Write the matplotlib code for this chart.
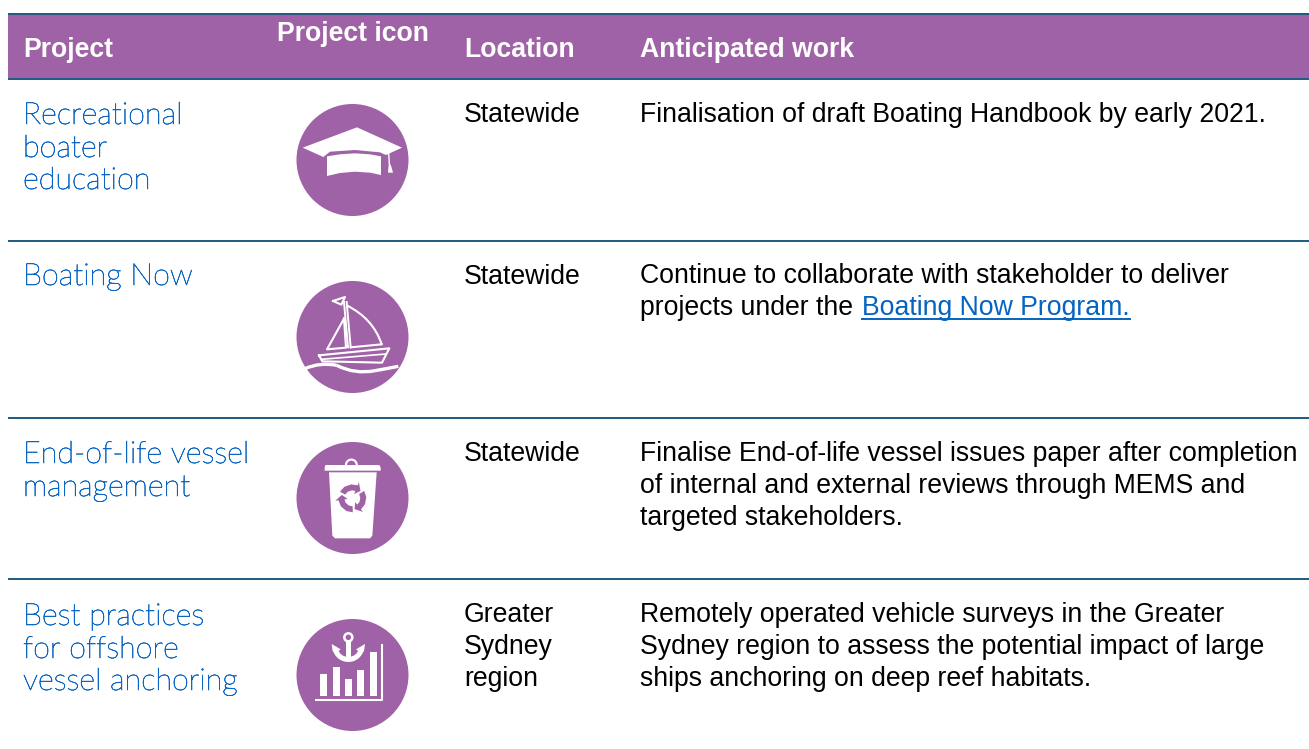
import numpy as np
import matplotlib
matplotlib.use('Agg')
import matplotlib.pyplot as plt
import matplotlib.patheffects as pe
from matplotlib.patches import Circle, Polygon, Rectangle, Wedge, PathPatch
from matplotlib.path import Path

# table content
headers = ['Project', 'Project icon', 'Location', 'Anticipated work']
projects = [['Recreational', 'boater', 'education'],
            ['Boating Now'],
            ['End-of-life vessel', 'management'],
            ['Best practices', 'for offshore', 'vessel anchoring']]
locations = [['Statewide'], ['Statewide'], ['Statewide'], ['Greater', 'Sydney', 'region']]
work = [['Finalisation of draft Boating Handbook by early 2021.'],
        ['Continue to collaborate with stakeholder to deliver', 'projects under the '],
        ['Finalise End-of-life vessel issues paper after completion',
         'of internal and external reviews through MEMS and',
         'targeted stakeholders.'],
        ['Remotely operated vehicle surveys in the Greater',
         'Sydney region to assess the potential impact of large',
         'ships anchoring on deep reef habitats.']]
link_text = 'Boating Now Program.'

PURPLE = '#A062A6'
RULE = '#1F5A82'
BLUE = '#0A66C2'
LINK = '#0563C1'
BODY = 'Liberation Sans'
GOTHIC = 'Lato'
SIZE = 19.2

fig = plt.figure(figsize=(13.09, 7.49), dpi=100)
ax = fig.add_axes([0, 0, 1, 1])
ax.set_xlim(0, 1309)
ax.set_ylim(749, 0)
ax.axis('off')

# header band and rules
ax.add_patch(Rectangle((8, 14), 1301, 65, fc=PURPLE, ec='none'))
for y in [14, 79, 241, 418, 579]:
    ax.plot([8, 1309], [y, y], color=RULE, lw=1.4, solid_capstyle='butt')

# header labels
head_x = [23, 277, 464, 640]
head_y = [57, 41, 57, 57]
for lab, x, y in zip(headers, head_x, head_y):
    ax.text(x, y, lab, color='white', fontsize=SIZE, fontweight='bold', family=BODY, va='baseline')

# rows
name_y = [[124, 157, 189], [285], [463, 496], [625, 658, 690]]
loc_y = [[122], [284], [461], [622, 654, 686]]
work_y = [[122], [283, 315], [461, 493, 525], [622, 654, 686]]
# lato light is too thin at this size, thicken it a little
thicker = [pe.withStroke(linewidth=0.45, foreground=BLUE)]
for i in range(4):
    for lab, y in zip(projects[i], name_y[i]):
        ax.text(23, y, lab, color=BLUE, fontsize=22, fontweight='light', family=GOTHIC, va='baseline',
                path_effects=thicker)
    for lab, y in zip(locations[i], loc_y[i]):
        ax.text(464, y, lab, color='black', fontsize=SIZE, family=BODY, va='baseline')
    for lab, y in zip(work[i], work_y[i]):
        ax.text(640, y, lab, color='black', fontsize=SIZE, family=BODY, va='baseline')

# hyperlink after "projects under the"
fig.canvas.draw()
r = fig.canvas.get_renderer()
prefix = [t for t in ax.texts if t.get_text() == work[1][1]][0]
link_x = ax.transData.inverted().transform(prefix.get_window_extent(r).max)[0] + 2
link = ax.text(link_x, 315, link_text, color=LINK, fontsize=SIZE, family=BODY, va='baseline')
fig.canvas.draw()
bb = link.get_window_extent(r)
ax.plot([link_x, link_x + bb.width], [318.5, 318.5], color=LINK, lw=1.4)


# icons are traced in the coordinates of a 3x crop (ox, oy = crop corner)
def pts(xy, ox, oy):
    xy = np.array(xy, dtype=float)
    return xy / 3 + [ox, oy]


def fill(xy, ox, oy, z=4):
    ax.add_patch(Polygon(pts(xy, ox, oy), closed=True, fc='white', ec='none', zorder=z))


def curve(xy, ox, oy, lw=1.5):
    xy = pts(xy, ox, oy)
    codes = [Path.MOVETO] + [Path.CURVE3] * (len(xy) - 1)
    ax.add_patch(PathPatch(Path(xy, codes), fc='none', ec='white', lw=lw, zorder=4))


def line(xy, ox, oy, lw=1.5):
    xy = pts(xy, ox, oy)
    ax.plot(xy[:, 0], xy[:, 1], color='white', lw=lw, zorder=4, solid_joinstyle='round')


for cy in [160, 337, 498, 675]:
    ax.add_patch(Circle((352.5, cy), 56, fc=PURPLE, ec='none', zorder=3))

# graduation cap
ox, oy = 280, 95
fill([(68, 158), (231, 97), (366, 158), (318, 180), (300, 172), (225, 165), (150, 170), (130, 186)], ox, oy)
fill([(141, 184), (180, 178), (225, 175), (270, 178), (303, 184), (303, 240), (270, 233),
      (225, 230), (180, 234), (141, 243)], ox, oy)
line([(326, 176), (328, 205)], ox, oy, lw=1)
fill([(327, 198), (334, 215), (339, 233), (324, 233)], ox, oy)

# sail boat
ox, oy = 280, 272
line([(159, 87), (195, 75), (184, 98), (159, 87)], ox, oy)
line([(192, 90), (204, 226)], ox, oy, lw=1.4)
line([(200, 90), (212, 226)], ox, oy, lw=1.4)
curve([(200, 100), (280, 140), (305, 217)], ox, oy)
line([(305, 217), (212, 226)], ox, oy)
line([(192, 140), (141, 232), (198, 227), (192, 140)], ox, oy)
line([(117, 250), (328, 229), (306, 272), (127, 268), (117, 250)], ox, oy)
line([(125, 262), (318, 246)], ox, oy, lw=1.2)
curve([(75, 290), (120, 270), (170, 280)], ox, oy, lw=2.4)
curve([(170, 280), (225, 308), (285, 296)], ox, oy, lw=2.4)
curve([(285, 296), (320, 290), (355, 283)], ox, oy, lw=2.4)

# recycle bin
ox, oy = 280, 435
fill([(136, 90), (298, 90), (302, 98), (302, 107), (134, 107), (134, 98)], ox, oy)
fill([(147, 112), (290, 112), (277, 302), (270, 310), (165, 310), (157, 302)], ox, oy)
ax.add_patch(Wedge(pts([(214, 90)], ox, oy)[0], 6.5, 180, 360, width=2.2, fc='white', ec='none', zorder=4))
# three chasing arrows, one polar shape turned by 120 degrees
ang = np.deg2rad([-62, -35, -5, 22, 22, 48, 22, 22, -5, -35, -62])
rad = np.array([24, 24, 24, 24, 14, 33, 52, 42, 42, 42, 42], dtype=float)
for a0 in np.deg2rad([0, 120, 240]):
    shape = np.column_stack([217 + rad * np.sin(ang + a0), 190 - rad * np.cos(ang + a0)])
    ax.add_patch(Polygon(pts(shape, ox, oy), closed=True, fc=PURPLE, ec='none', zorder=5))

# anchor and bars
ox, oy = 280, 610
ax.add_patch(Circle(pts([(205, 82)], ox, oy)[0], 4, fc='none', ec='white', lw=1.8, zorder=4))
fill([(199, 94), (212, 94), (212, 148), (199, 148)], ox, oy)
ax.add_patch(Wedge(pts([(205, 108)], ox, oy)[0], 16, 10, 170, width=5, fc='white', ec='none', zorder=4))
fill([(155, 102), (182, 118), (172, 126), (158, 124)], ox, oy)
fill([(255, 102), (228, 118), (238, 126), (252, 124)], ox, oy)
for x0, x1, top in [(121, 142, 193), (160, 181, 172), (195, 216, 206), (230, 251, 181), (270, 291, 125)]:
    fill([(x0, top), (x1, top), (x1, 258), (x0, 258)], ox, oy)
line([(109, 269), (305, 269), (305, 106)], ox, oy, lw=1.5)

fig.savefig('out.png', dpi=100)
